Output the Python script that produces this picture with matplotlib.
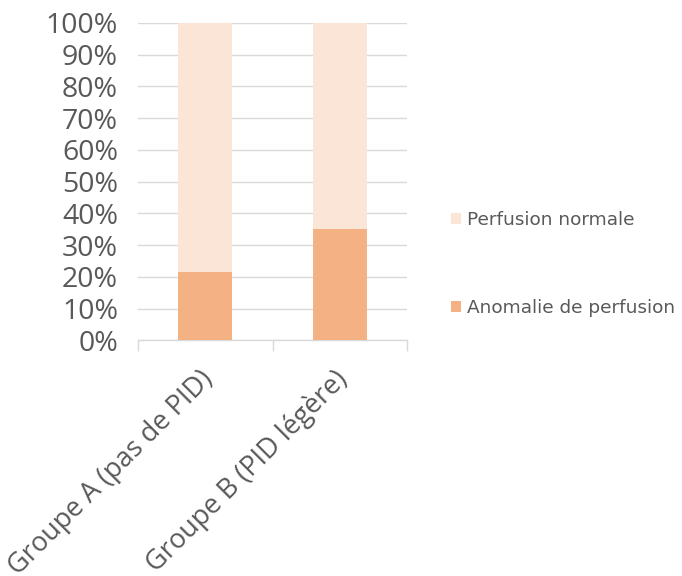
import matplotlib
matplotlib.use("Agg")
import matplotlib.pyplot as plt
import matplotlib.transforms as mtransforms
from matplotlib.patches import Patch
import numpy as np

categories = ["Groupe A (pas de PID)", "Groupe B (PID légère)"]
anomalie = [21.5, 35.1]
normale = [78.5, 64.9]
series_labels = ["Anomalie de perfusion", "Perfusion normale"]
yticks = [0, 10, 20, 30, 40, 50, 60, 70, 80, 90, 100]
ytick_labels = [f"{v}%" for v in yticks]

col_anom = "#F4B183"
col_norm = "#FBE5D6"
txt = "#595959"
grid = "#D9D9D9"

fig = plt.figure(figsize=(6.82, 5.76), dpi=100)
ax = fig.add_axes([138/682, 1-340.3/576, (407.3-138)/682, (340.3-22.8)/576])

x = np.arange(len(categories))
ax.bar(x, anomalie, width=0.4, color=col_anom, zorder=3)
ax.bar(x, normale, width=0.4, bottom=anomalie, color=col_norm, zorder=3)

ax.set_xlim(-0.5, len(categories)-0.5)
ax.set_ylim(0, 100)
ax.set_yticks(yticks)
ax.set_yticklabels(ytick_labels, family=["Open Sans", "DejaVu Sans"], fontsize=20.5, color=txt)
ax.tick_params(axis="y", length=0, pad=14.4)
ax.yaxis.grid(True, color=grid, linewidth=1.0, zorder=0)
ax.set_axisbelow(True)

for s in ["top", "right", "left"]:
    ax.spines[s].set_visible(False)
ax.spines["bottom"].set_color(grid)
ax.spines["bottom"].set_linewidth(1.0)

# category boundary ticks
ax.set_xticks([-0.5, 0.5, 1.5], minor=True)
ax.tick_params(axis="x", which="minor", length=8, color=grid, width=1.0, direction="out")
ax.set_xticks(x)
ax.tick_params(axis="x", which="major", length=0)
ax.set_xticklabels([])

offset = mtransforms.ScaledTranslation(4/100, -35/100, fig.dpi_scale_trans)
for xi, lab in zip(x, categories):
    ax.text(xi, 0, lab, transform=ax.get_xaxis_transform() + offset,
            rotation=45, ha="right", va="center", rotation_mode="anchor",
            fontsize=19.5, color=txt, family=["Open Sans", "DejaVu Sans"])

handles = [Patch(facecolor=col_norm, edgecolor="none"),
           Patch(facecolor=col_anom, edgecolor="none")]
fig.legend(handles, [series_labels[1], series_labels[0]],
           loc="center left", bbox_to_anchor=(451/682, 1-264/576),
           frameon=False, labelcolor=txt,
           prop={"family": ["DejaVu Sans"], "size": 13.3},
           handlelength=0.55, handleheight=0.55, handletextpad=0.3,
           labelspacing=3.75, borderpad=0, borderaxespad=0)

fig.savefig("out.png", dpi=100)
